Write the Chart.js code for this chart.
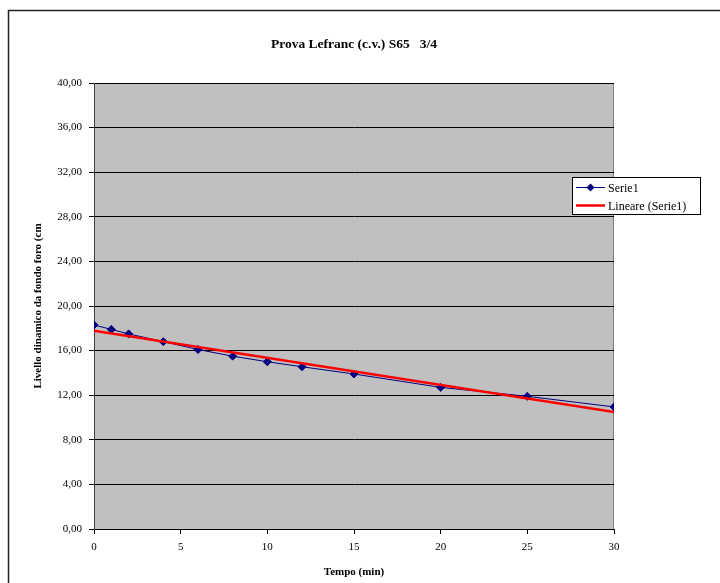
<!DOCTYPE html>
<html>
<head>
<meta charset="utf-8">
<script src="https://cdn.jsdelivr.net/npm/chart.js@4"></script>
<style>
  html, body { margin: 0; padding: 0; background: #fff; }
  #wrap { position: relative; width: 720px; height: 583px; }
</style>
</head>
<body>
<div id="wrap"><canvas id="c" width="720" height="583"></canvas></div>
<script>
// Tempo (min) and livello dinamico (cm)
const tempo = [0, 1, 2, 4, 6, 8, 10, 12, 15, 20, 25, 30];
const livello = [18.3, 17.9, 17.5, 16.8, 16.1, 15.5, 15.0, 14.55, 13.9, 12.7, 11.9, 10.95];
const chartTitle = 'Prova Lefranc (c.v.) S65   3/4';
const xTitle = 'Tempo (min)';
const yTitle = 'Livello dinamico da fondo foro (cm';
const seriesNames = ['Serie1', 'Lineare (Serie1)'];

// least-squares trend line over the measured points
function linearFit(xs, ys) {
  const n = xs.length;
  const mx = xs.reduce((a, b) => a + b, 0) / n;
  const my = ys.reduce((a, b) => a + b, 0) / n;
  let sxy = 0, sxx = 0;
  for (let i = 0; i < n; i++) {
    sxy += (xs[i] - mx) * (ys[i] - my);
    sxx += (xs[i] - mx) * (xs[i] - mx);
  }
  const slope = sxy / sxx;
  return { slope, intercept: my - slope * mx };
}
const fit = linearFit(tempo, livello);
const xMin = 0, xMax = 30;
const trend = [xMin, xMax].map(x => ({ x, y: fit.intercept + fit.slope * x }));

const serif = "'Liberation Serif', 'Times New Roman', serif";

const framePlugin = {
  id: 'frame',
  beforeDraw(chart) {
    const { ctx, chartArea: a } = chart;
    ctx.save();
    ctx.fillStyle = '#fff';
    ctx.fillRect(0, 0, chart.width, chart.height);
    // outer chart frame
    ctx.strokeStyle = '#222';
    ctx.lineWidth = 1.5;
    ctx.strokeRect(8.5, 10.5, 740, 620);
    // plot area
    ctx.lineWidth = 1;
    ctx.fillStyle = '#c0c0c0';
    ctx.fillRect(a.left, a.top, a.right - a.left, a.bottom - a.top);
    ctx.strokeStyle = '#808080';
    ctx.beginPath();
    ctx.moveTo(a.left, a.top + 0.5);
    ctx.lineTo(a.right - 0.5, a.top + 0.5);
    ctx.lineTo(a.right - 0.5, a.bottom);
    ctx.stroke();
    ctx.restore();
  },
  afterDraw(chart) {
    const { ctx, chartArea: a } = chart;
    ctx.save();
    // title
    ctx.fillStyle = '#000';
    ctx.font = 'bold 13.5px ' + serif;
    ctx.textAlign = 'center';
    ctx.textBaseline = 'middle';
    ctx.fillText(chartTitle, (a.left + a.right) / 2, 44.5);
    // legend
    const lx = 572, ly = 177, lw = 128, lh = 37;
    ctx.fillStyle = '#fff';
    ctx.fillRect(lx, ly, lw, lh);
    ctx.strokeStyle = '#000';
    ctx.lineWidth = 1;
    ctx.strokeRect(lx + 0.5, ly + 0.5, lw, lh);
    const ds = chart.data.datasets;
    const rows = [ly + 10.5, ly + 28.5];
    ds.forEach((d, i) => {
      const y = rows[i];
      ctx.strokeStyle = d.borderColor;
      ctx.lineWidth = d.borderWidth;
      ctx.beginPath();
      ctx.moveTo(lx + 4, y);
      ctx.lineTo(lx + 33, y);
      ctx.stroke();
      if (d.pointRadius > 0) {
        ctx.fillStyle = d.pointBackgroundColor;
        ctx.beginPath();
        ctx.moveTo(lx + 18.5, y - 4);
        ctx.lineTo(lx + 22.5, y);
        ctx.lineTo(lx + 18.5, y + 4);
        ctx.lineTo(lx + 14.5, y);
        ctx.closePath();
        ctx.fill();
      }
      ctx.fillStyle = '#000';
      ctx.font = '12px ' + serif;
      ctx.textAlign = 'left';
      ctx.fillText(d.label, lx + 36, y + 1);
    });
    ctx.restore();
  }
};

new Chart(document.getElementById('c'), {
  type: 'scatter',
  data: {
    datasets: [
      {
        label: seriesNames[0],
        data: tempo.map((x, i) => ({ x, y: livello[i] })),
        showLine: true,
        borderColor: '#000080',
        backgroundColor: '#000080',
        pointBackgroundColor: '#000080',
        pointBorderColor: '#000080',
        borderWidth: 1,
        pointStyle: 'rectRot',
        pointRadius: 4,
        pointHoverRadius: 4,
        order: 2
      },
      {
        label: seriesNames[1],
        data: trend,
        showLine: true,
        borderColor: '#ff0000',
        backgroundColor: '#ff0000',
        borderWidth: 2.5,
        pointRadius: 0,
        order: 1
      }
    ]
  },
  options: {
    responsive: false,
    animation: false,
    events: [],
    layout: { padding: { left: 0, right: 106, top: 83, bottom: 0 } },
    plugins: { legend: { display: false }, title: { display: false }, tooltip: { enabled: false } },
    scales: {
      x: {
        type: 'linear',
        min: xMin,
        max: xMax,
        ticks: {
          stepSize: 5,
          padding: 7,
          color: '#000',
          font: { family: serif, size: 11 }
        },
        grid: { drawOnChartArea: false, drawTicks: true, tickLength: 5, color: '#000' },
        border: { display: true, color: '#000', width: 1 },
        title: {
          display: true,
          text: xTitle,
          color: '#000',
          font: { family: serif, size: 11, weight: 'bold' },
          padding: { top: 0, bottom: 4 }
        },
        afterFit(s) { s.height = 54; }
      },
      y: {
        min: 0,
        max: 40,
        ticks: {
          stepSize: 4,
          padding: 7,
          color: '#000',
          font: { family: serif, size: 11 },
          callback: v => v.toFixed(2).replace('.', ',')
        },
        grid: { color: '#000', tickLength: 5, lineWidth: 1 },
        border: { display: true, color: '#404040', width: 1 },
        title: {
          display: true,
          text: yTitle,
          color: '#000',
          font: { family: serif, size: 11, weight: 'bold' },
          padding: { top: 32, bottom: 0 }
        },
        afterFit(s) { s.width = 94; }
      }
    }
  },
  plugins: [framePlugin]
});
</script>
</body>
</html>
